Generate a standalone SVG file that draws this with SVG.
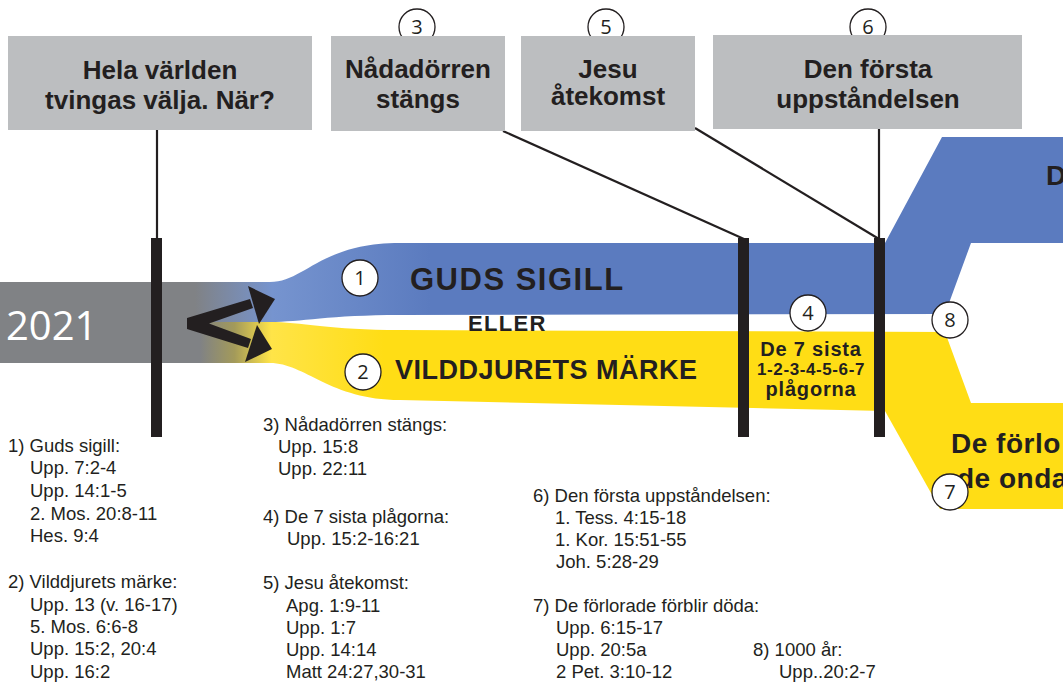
<svg xmlns="http://www.w3.org/2000/svg" width="1063" height="685" viewBox="0 0 1063 685">
<defs>
<style>
.box{fill:#bcbec0}
.bt{font-family:"Liberation Sans",Arial,sans-serif;font-weight:bold;font-size:26px;fill:#231f20;text-anchor:middle}
.circ{fill:#fff;stroke:#231f20;stroke-width:1.3}
.cn{font-family:"Open Sans","Liberation Sans",sans-serif;font-size:20px;fill:#231f20;text-anchor:middle}
.bar{fill:#231f20}
.ln{stroke:#231f20;stroke-width:2.2;fill:none}
.ref{font-family:"Liberation Sans",Arial,sans-serif;font-size:18.5px;fill:#231f20}
.big{font-family:"Liberation Sans",Arial,sans-serif;font-weight:bold;fill:#231f20}
</style>
<linearGradient id="gb" gradientUnits="userSpaceOnUse" x1="195" y1="0" x2="430" y2="0">
<stop offset="0" stop-color="#808285"/>
<stop offset="0.33" stop-color="#7694cf"/>
<stop offset="1" stop-color="#5b7bbf"/>
</linearGradient>
<linearGradient id="gy" gradientUnits="userSpaceOnUse" x1="200" y1="0" x2="430" y2="0">
<stop offset="0" stop-color="#808285"/>
<stop offset="0.15" stop-color="#a39a5a"/>
<stop offset="0.31" stop-color="#ffe448"/>
<stop offset="0.8" stop-color="#ffdd15"/>
</linearGradient>
</defs>

<g id="bands">
<rect x="0" y="282" width="205" height="81" fill="#808285"/>
<path d="M190,282 L270,282 C305,282 320,243 400,243 L885,243 L942,137 L1063,137 L1063,243 L971,243 L945,314 L400,315 C330,315 300,322 270,322 L190,322 Z" fill="url(#gb)"/>
<path d="M190,322 L270,322 C300,322 330,330 400,330 L945,332 L971,403 L1063,403 L1063,509 L940,509 L885,411 L400,400 C330,400 305,363 270,363 L190,363 Z" fill="url(#gy)"/>
<text x="6" y="340" font-family="'Open Sans','Liberation Sans',sans-serif" font-size="40" fill="#fff">2021</text>
</g>

<g id="connectors">
<line class="ln" x1="157" y1="130" x2="157" y2="240"/>
<line class="ln" x1="503" y1="131" x2="744" y2="239"/>
<line class="ln" x1="695" y1="128" x2="879" y2="239"/>
<line class="ln" x1="879" y1="129" x2="879" y2="239"/>
<polygon points="187,318 250,299 253,308 209,323.5 251,339 248,348 187,329" fill="#231f20"/>
<polygon points="248,286 275,299 259,324" fill="#231f20"/>
<polygon points="257,325 272,349 245,362" fill="#231f20"/>
</g>

<g id="bars">
<rect class="bar" x="151" y="238" width="11" height="199"/>
<rect class="bar" x="738" y="238" width="11" height="199"/>
<rect class="bar" x="874" y="238" width="11" height="199"/>
</g>

<g id="node-3-circle"><circle class="circ" cx="417" cy="27" r="18"/><text class="cn" x="417" y="34">3</text></g>
<g id="node-5-circle"><circle class="circ" cx="606" cy="27" r="18"/><text class="cn" x="606" y="34">5</text></g>
<g id="node-6-circle"><circle class="circ" cx="868" cy="27" r="18"/><text class="cn" x="868" y="34">6</text></g>

<g id="box-hela">
<rect class="box" x="8" y="36" width="304" height="94"/>
<text class="bt" x="160" y="79">Hela världen</text>
<text class="bt" x="160" y="109">tvingas välja. När?</text>
</g>
<g id="box-nadadorren">
<rect class="box" x="331" y="36" width="174" height="95"/>
<text class="bt" x="418" y="78">Nådadörren</text>
<text class="bt" x="418" y="108">stängs</text>
</g>
<g id="box-jesu">
<rect class="box" x="521" y="36" width="174" height="95"/>
<text class="bt" x="608" y="78">Jesu</text>
<text class="bt" x="608" y="105">åtekomst</text>
</g>
<g id="box-forsta">
<rect class="box" x="713" y="35" width="309" height="94"/>
<text class="bt" x="868" y="78">Den första</text>
<text class="bt" x="868" y="108">uppståndelsen</text>
</g>

<g id="band-labels">
<text class="big" x="410" y="290" font-size="31" letter-spacing="1.5">GUDS SIGILL</text>
<text class="big" x="468" y="331" font-size="22" letter-spacing="1.3">ELLER</text>
<text class="big" x="395" y="379" font-size="27" letter-spacing="0.5">VILDDJURETS MÄRKE</text>
<text class="big" x="811" y="356" font-size="20" letter-spacing="0.8" text-anchor="middle">De 7 sista</text>
<text class="big" x="811" y="375" font-size="17" letter-spacing="0.6" text-anchor="middle">1-2-3-4-5-6-7</text>
<text class="big" x="811" y="396" font-size="20" letter-spacing="0.8" text-anchor="middle">plågorna</text>
<text class="big" x="1046" y="185" font-size="28">D</text>
<text class="big" x="951" y="453" font-size="28" letter-spacing="0.5">De förlo</text>
<text class="big" x="957" y="488" font-size="28" letter-spacing="0.5">de onda</text>
</g>

<g id="node-1"><circle class="circ" cx="360" cy="278" r="18"/><text class="cn" x="360" y="285">1</text></g>
<g id="node-2"><circle class="circ" cx="363" cy="372" r="18"/><text class="cn" x="363" y="379">2</text></g>
<g id="node-4"><circle class="circ" cx="808" cy="313" r="18"/><text class="cn" x="808" y="320">4</text></g>
<g id="node-8"><circle class="circ" cx="950" cy="320" r="18"/><text class="cn" x="950" y="327">8</text></g>
<g id="node-7"><circle class="circ" cx="950" cy="492" r="18"/><text class="cn" x="950" y="499">7</text></g>

<g id="refs-1" class="ref">
<text x="8" y="452">1) Guds sigill:</text>
<text x="30" y="474">Upp. 7:2-4</text>
<text x="30" y="497">Upp. 14:1-5</text>
<text x="30" y="520">2. Mos. 20:8-11</text>
<text x="30" y="542">Hes. 9:4</text>
<text x="8" y="588">2) Vilddjurets märke:</text>
<text x="30" y="611">Upp. 13 (v. 16-17)</text>
<text x="30" y="633">5. Mos. 6:6-8</text>
<text x="30" y="655">Upp. 15:2, 20:4</text>
<text x="30" y="678">Upp. 16:2</text>
</g>
<g id="refs-2" class="ref">
<text x="263" y="431">3) Nådadörren stängs:</text>
<text x="278" y="453">Upp. 15:8</text>
<text x="278" y="475">Upp. 22:11</text>
<text x="263" y="523">4) De 7 sista plågorna:</text>
<text x="287" y="545">Upp. 15:2-16:21</text>
<text x="263" y="589">5) Jesu åtekomst:</text>
<text x="286" y="612">Apg. 1:9-11</text>
<text x="286" y="634">Upp. 1:7</text>
<text x="286" y="656">Upp. 14:14</text>
<text x="286" y="678">Matt 24:27,30-31</text>
</g>
<g id="refs-3" class="ref">
<text x="533" y="502">6) Den första uppståndelsen:</text>
<text x="555" y="524">1. Tess. 4:15-18</text>
<text x="555" y="546">1. Kor. 15:51-55</text>
<text x="556" y="568">Joh. 5:28-29</text>
<text x="533" y="612">7) De förlorade förblir döda:</text>
<text x="556" y="634">Upp. 6:15-17</text>
<text x="556" y="656">Upp. 20:5a</text>
<text x="556" y="678">2 Pet. 3:10-12</text>
<text x="753" y="656">8) 1000 år:</text>
<text x="779" y="678">Upp..20:2-7</text>
</g>
</svg>
